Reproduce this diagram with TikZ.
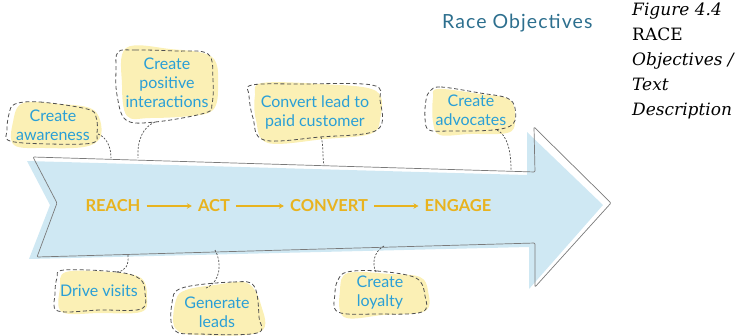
\documentclass[tikz,border=0pt]{standalone}
\usepackage{fontspec}
\newfontfamily\lato{Lato}
\newfontfamily\latowide[LetterSpace=5.5]{Lato}
\newfontfamily\capserif{DejaVu Serif}
\usetikzlibrary{arrows.meta}
\definecolor{bubbletext}{HTML}{2A9FD6}
\definecolor{titleblue}{HTML}{2D6F8E}
\definecolor{gold}{HTML}{E8B31F}
\definecolor{blobyellow}{HTML}{FBF0B5}
\definecolor{arrowfill}{HTML}{CFE8F3}
\definecolor{dashgray}{HTML}{505050}
\definecolor{edgegray}{HTML}{7A7A7A}
\begin{document}
\begin{tikzpicture}[x=1pt,y=-1pt,
  blob/.style={fill=blobyellow, draw=none},
  blobline/.style={draw=dashgray, line width=0.8pt, dash pattern=on 4pt off 2.6pt},
  link/.style={draw=dashgray, line width=0.7pt, dash pattern=on 2pt off 1.5pt},
  bubbletxt/.style={font=\lato\fontsize{16}{19}\selectfont, text=bubbletext, align=center, inner sep=0pt},
  stage/.style={font=\lato\bfseries\fontsize{16.5}{20}\selectfont, text=gold, inner sep=0pt},
  flow/.style={draw=gold, line width=1.5pt, shorten <=6pt, shorten >=6pt, -{Stealth[length=5pt,width=5.5pt]}},
  capline/.style={font=\capserif\fontsize{17}{25}\selectfont, anchor=base west, inner sep=0pt},
  arrowline/.style={draw=edgegray, line width=0.7pt, rounded corners=1pt}
]
\useasboundingbox (0,0) rectangle (753,335);

% ---- big arrow ----
\fill[arrowfill] (27,161) -- (527,175) -- (527,132) -- (603,205) -- (529,289) -- (529,247) -- (29,259) -- (50,205) -- cycle;
\draw[arrowline] (33,157) -- (535,172) -- (534,127) -- (611,203) -- (535,287) -- (535,243) -- (37,257) -- (57,203) -- cycle;

% ---- stages ----
\node[stage] (reach) at (113,206) {REACH};
\node[stage] (act) at (214,206) {ACT};
\node[stage] (convert) at (329,206) {CONVERT};
\node[stage] (engage) at (458,206) {ENGAGE};
\draw[flow] (reach.east) -- (act.west);
\draw[flow] (act.east) -- (convert.west);
\draw[flow] (convert.east) -- (engage.west);

% ---- title and caption ----
\node[font=\latowide\fontsize{19.5}{23}\selectfont, text=titleblue, anchor=base west, inner sep=0pt] (title) at (442,28) {Race Objectives};
\node[capline] (cap1) at (632,15) {\itshape Figure 4.4};
\node[capline] (cap2) at (632,40) {RACE};
\node[capline] (cap3) at (632,65) {\itshape Objectives /};
\node[capline] (cap4) at (632,90) {\itshape Text};
\node[capline] (cap5) at (632,115) {\itshape Description};

% ---- bubble 1: Create awareness ----
\fill[blob] plot[smooth cycle, tension=0.6] coordinates {(23,103) (60,104) (90,108) (100,120) (100,138) (84,147) (45,148) (14,145) (13,122)};
\draw[blobline] plot[smooth cycle, tension=0.6] coordinates {(15,104) (40,102) (87,109) (96,117) (97,133) (92,143) (50,144) (10,141) (7,130) (9,114)};
\node[bubbletxt] (b1) at (53,125) {Create\\awareness};
\coordinate (b1s) at (98,134);
\coordinate (a1) at (111,158);
\draw[link] (b1s) .. controls (106,137) and (111,146) .. (a1);

% ---- bubble 2: Create positive interactions ----
\fill[blob] plot[smooth cycle, tension=0.6] coordinates {(126,48) (170,49) (212,57) (218,87) (213,110) (190,116) (150,118) (127,116) (122,85)};
\draw[blobline] plot[smooth cycle, tension=0.6] coordinates {(118,52) (135,50) (175,51) (208,54) (213,80) (212,104) (205,113) (155,122) (126,120) (117,95) (116,70)};
\node[bubbletxt] (b2) at (167,83) {Create\\positive\\interactions};
\coordinate (b2s) at (155,122);
\coordinate (a2) at (138,158);
\draw[link] (b2s) .. controls (143,127) and (137,140) .. (a2);

% ---- bubble 3: Convert lead to paid customer ----
\fill[blob] plot[smooth cycle, tension=0.6] coordinates {(262,83) (320,84) (376,91) (380,120) (370,134) (325,139) (268,143) (256,120) (255,95)};
\draw[blobline] plot[smooth cycle, tension=0.6] coordinates {(252,85) (300,84) (372,85) (380,100) (377,130) (320,137) (264,140) (253,118) (249,95)};
\node[bubbletxt] (b3) at (315,112) {Convert lead to\\paid customer};
\coordinate (b3s) at (321,137);
\coordinate (a3) at (324,165);
\draw[link] (b3s) .. controls (324,146) and (322,156) .. (a3);

% ---- bubble 4: Create advocates ----
\fill[blob] plot[smooth cycle, tension=0.6] coordinates {(438,89) (480,94) (510,100) (515,122) (507,133) (470,134) (440,135) (433,122) (433,98)};
\draw[blobline] plot[smooth cycle, tension=0.6] coordinates {(430,91) (441,87) (480,93) (507,98) (515,108) (513,124) (493,130) (450,131) (429,130) (425,118) (426,100)};
\node[bubbletxt] (b4) at (471,110) {Create\\advocates};
\coordinate (b4s) at (497,130);
\coordinate (a4) at (511,170);
\draw[link] (b4s) .. controls (507,135) and (511,150) .. (a4);

% ---- bubble 5: Drive visits ----
\fill[blob] plot[smooth cycle, tension=0.6] coordinates {(66,272) (110,272) (141,278) (147,298) (141,312) (100,313) (62,312) (60,288)};
\draw[blobline] plot[smooth cycle, tension=0.6] coordinates {(64,270) (117,272) (140,279) (145,293) (141,309) (100,310) (58,311) (55,294) (57,278)};
\node[bubbletxt] (b5) at (99,291) {Drive visits};
\coordinate (a5) at (128,255);
\coordinate (b5s) at (117,272);
\draw[link] (a5) .. controls (129,266) and (125,271) .. (b5s);

% ---- bubble 6: Generate leads ----
\fill[blob] plot[smooth cycle, tension=0.6] coordinates {(186,290) (215,285) (247,283) (261,305) (260,332) (200,335) (175,328) (176,300)};
\draw[blobline] plot[smooth cycle, tension=0.6] coordinates {(182,288) (233,282) (254,286) (259,317) (257,333) (200,334) (174,330) (172,303)};
\node[bubbletxt] (b6) at (217,312) {Generate\\leads};
\coordinate (a6) at (215,250);
\coordinate (b6s) at (206,288);
\draw[link] (a6) .. controls (222,262) and (221,282) .. (b6s);

% ---- bubble 7: Create loyalty ----
\fill[blob] plot[smooth cycle, tension=0.6] coordinates {(348,273) (390,274) (420,277) (428,291) (425,311) (383,315) (344,317) (340,290)};
\draw[blobline] plot[smooth cycle, tension=0.6] coordinates {(347,272) (377,271) (416,278) (425,296) (422,312) (377,314) (338,312) (335,293) (338,280)};
\node[bubbletxt] (b7) at (380,293) {Create\\loyalty};
\coordinate (a7) at (384,246);
\coordinate (b7s) at (376,272);
\draw[link] (a7) .. controls (373,252) and (372,265) .. (b7s);
\end{tikzpicture}
\end{document}
